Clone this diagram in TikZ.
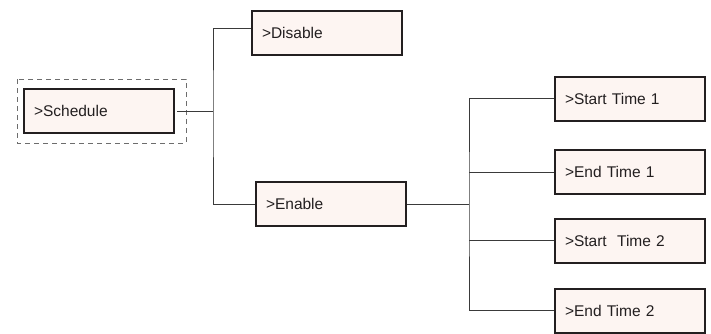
\documentclass[tikz,border=0pt]{standalone}
\usepackage{fontspec}
\setmainfont{Liberation Sans}
\usetikzlibrary{calc, positioning}
\definecolor{cBorder}{HTML}{231F20}
\definecolor{cFill}{HTML}{FDF5F2}
\definecolor{cLine}{HTML}{3A3A3A}
\definecolor{cDash}{HTML}{6D6D6D}

\begin{document}
\begin{tikzpicture}[
    x=1pt, y=-1pt,
    % ---------------------------------------------------------
    % BASE STYLES
    % ---------------------------------------------------------
    menu box/.style={
        rectangle,
        draw=cBorder,
        fill=cFill,
        line width=2pt,
        minimum width=150pt,
        minimum height=44pt,
        inner xsep=10pt,
        inner ysep=0pt,
        text width=130pt,
        align=left,
        text=cBorder,
        font=\fontsize{15.5}{18}\selectfont
    },
    tree line/.style={
        draw=cLine,
        line width=0.9pt
    },
    focus frame/.style={
        draw=cDash,
        line width=1pt,
        dash pattern=on 5pt off 4pt
    }
]
\useasboundingbox (0,0) rectangle (711,333);
\clip (0,0) rectangle (711,333);

% ---------------------------------------------------------
% 1. MENU ITEMS
% ---------------------------------------------------------
\node[menu box] (sched) at (99, 111) {>Schedule};
\node[menu box] (dis) at (327, 32.5) {>Disable};
\node[menu box] (en) at (331, 204) {>Enable};

% Enable submenu
\node[menu box] (st1) at (630, 98.5) {>Start Time 1};
\node[menu box] (et1) at (630, 172) {>End Time 1};
\node[menu box] (st2) at (630, 240.5) {>Start~ Time 2};
\node[menu box] (et2) at (630, 310.5) {>End Time 2};

% Selected item
\draw[focus frame] ([xshift=-6pt, yshift=9pt]sched.north west) rectangle ([xshift=11pt, yshift=-9pt]sched.south east);

% ---------------------------------------------------------
% 2. JUNCTIONS
% ---------------------------------------------------------
\coordinate (jSched) at ($(sched.east)+(38, 0)$);
\coordinate (jEn) at ($(en.east)+(62, 0)$);

% ---------------------------------------------------------
% 3. TREE LINES
% ---------------------------------------------------------
\draw[tree line] ([xshift=2pt]sched.east) -- (jSched);
\draw[tree line] ([yshift=4.5pt]dis.west) -| (jSched) |- (en.west);

\draw[tree line] (en.east) -- (jEn);
\draw[tree line] (st1.west) -| (jEn) |- (et2.west);
\draw[tree line] (jEn |- et1.west) -- (et1.west);
\draw[tree line] (jEn |- st2.west) -- (st2.west);

\end{tikzpicture}
\end{document}
